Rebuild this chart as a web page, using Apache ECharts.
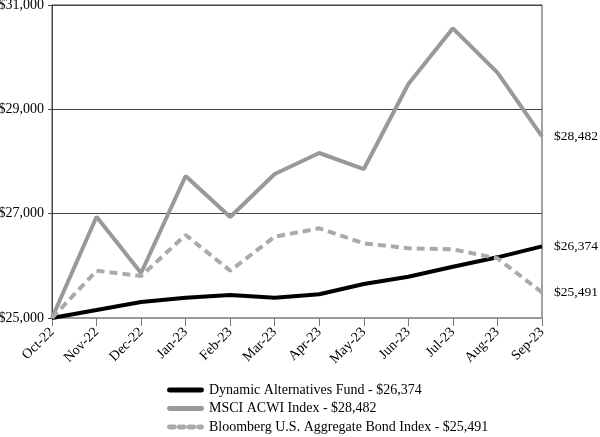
<!DOCTYPE html>
<html><head><meta charset="utf-8">
<script src="https://cdn.jsdelivr.net/npm/echarts@6/dist/echarts.min.js"></script>
<style>html,body{margin:0;padding:0;background:#fff}#c{width:600px;height:437px}</style>
</head><body><div id="c"></div>
<script>
const categories = ['Oct-22','Nov-22','Dec-22','Jan-23','Feb-23','Mar-23','Apr-23','May-23','Jun-23','Jul-23','Aug-23','Sep-23'];
const fundName = 'Dynamic Alternatives Fund - $26,374';
const fundValues = [25000,25153,25307,25389,25441,25389,25455,25652,25792,25983,26163,26374];
const acwiName = 'MSCI ACWI Index - $28,482';
const acwiValues = [25000,26942,25863,27722,26936,27760,28163,27856,29486,30553,29703,28482];
const bondName = 'Bloomberg U.S. Aggregate Bond Index - $25,491';
const bondValues = [25000,25907,25805,26591,25907,26559,26719,26432,26336,26317,26144,25491];
const yTicks = [25000,27000,29000,31000];

const font = 'Liberation Serif';
function money(v){return '$' + String(v).replace(/\B(?=(\d{3})+(?!\d))/g, ',');}
const chart = echarts.init(document.getElementById('c'));
function mk(name, data, color, type){
  return {
    name, type:'line', data, symbol:'none', smooth:false, animation:false,
    lineStyle:{color, width:4, type, cap:'butt'},
    itemStyle:{color},
    endLabel:{show:true, distance:12, formatter:(p)=>money(p.value), color:'#000', fontFamily:font, fontSize:13.5}
  };
}
const solidIcon = 'path://M2,0h33a2,2 0 0 1 0,5h-33a2,2 0 0 1 0,-5z';
const dashIcon = 'path://M2,0h5a2,2 0 0 1 0,5h-5a2,2 0 0 1 0,-5z M12,0h5a2,2 0 0 1 0,5h-5a2,2 0 0 1 0,-5z M22,0h5a2,2 0 0 1 0,5h-5a2,2 0 0 1 0,-5z M32,0h3a2,2 0 0 1 0,5h-3a2,2 0 0 1 0,-5z';
chart.setOption({
  animation:false,
  grid:{left:52, right:58, top:5, bottom:119, show:true, borderColor:'#444', borderWidth:1, outerBoundsMode:'none', containLabel:false},
  xAxis:{type:'category', data:categories, boundaryGap:false,
    axisLine:{lineStyle:{color:'#999', width:2}},
    axisTick:{show:true, length:8, lineStyle:{color:'#777'}},
    axisLabel:{rotate:45, color:'#000', fontFamily:font, fontSize:14, margin:12, interval:0}},
  yAxis:{type:'value', min:25000, max:31000, interval:2000,
    axisLine:{show:true, lineStyle:{color:'#444'}},
    axisTick:{show:true, length:4, lineStyle:{color:'#444'}},
    splitLine:{lineStyle:{color:'#444', width:1}},
    axisLabel:{formatter:money, color:'#000', fontFamily:font, fontSize:14, margin:8}},
  legend:{orient:'vertical', left:167, top:383, padding:0, width:420, height:60,
    itemWidth:37, itemHeight:6, itemGap:4.5,
    textStyle:{color:'#000', fontFamily:font, fontSize:14, padding:[0,0,0,0]},
    data:[{name:fundName, icon:solidIcon},{name:acwiName, icon:solidIcon},{name:bondName, icon:dashIcon}]},
  series:[
    mk(fundName, fundValues, '#000', 'solid'),
    mk(acwiName, acwiValues, '#999', 'solid'),
    mk(bondName, bondValues, '#aaa', [8,5])
  ]
});
</script></body></html>
